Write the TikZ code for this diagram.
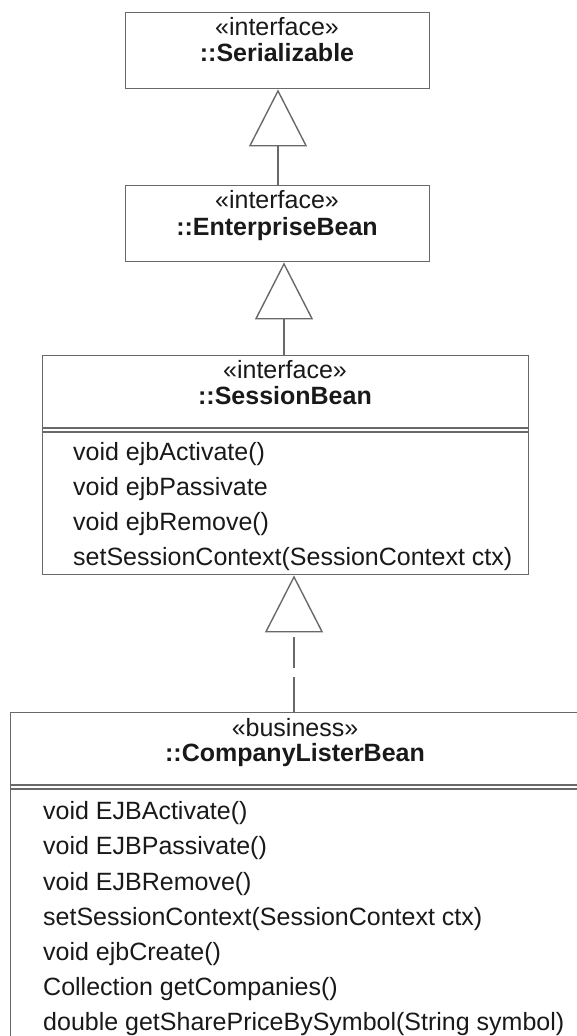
\documentclass[tikz,border=0pt]{standalone}
\usepackage{fontspec}
\setmainfont{Liberation Sans}
\usetikzlibrary{arrows.meta}
\definecolor{lineg}{RGB}{105,105,105}
\definecolor{inkc}{RGB}{25,25,25}
\tikzset{
  umlbox/.style={draw=lineg, line width=1.4pt, rectangle, inner sep=0pt, anchor=north west},
  stereo/.style={font=\fontsize{25}{29}\selectfont, text=inkc, inner sep=0pt, anchor=base},
  cname/.style={font=\bfseries\fontsize{25}{29}\selectfont, text=inkc, inner sep=0pt, anchor=base},
  member/.style={font=\fontsize{25}{29}\selectfont, text=inkc, inner sep=0pt, anchor=base west},
  gen/.style={draw=lineg, line width=1.4pt, -{Triangle[open, length=57pt, width=58pt, line width=1.4pt]}},
  real/.style={gen, dash pattern=on 35pt off 9pt on 31pt off 10pt},
  divider/.style={draw=lineg, line width=1.2pt}
}
\begin{document}
\begin{tikzpicture}[x=1pt, y=-1pt]
\useasboundingbox (0,0) rectangle (577,1036);
\clip (0,0) rectangle (577,1036);
\coordinate (ax1) at (278,0);
\coordinate (ax2) at (284,0);
\coordinate (ax3) at (294,0);
% Serializable
\node[umlbox, minimum width=304pt, minimum height=76pt] (ser) at (125,12) {};
\node[stereo] (serst) at (277,35) {«interface»};
\node[cname] (sernm) at (277,61) {::Serializable};
% EnterpriseBean
\node[umlbox, minimum width=304pt, minimum height=76pt] (ent) at (125,185) {};
\node[stereo] (entst) at (277,208) {«interface»};
\node[cname] (entnm) at (277,235) {::EnterpriseBean};
% SessionBean
\node[umlbox, minimum width=486pt, minimum height=219pt] (sb) at (42,355) {};
\node[stereo] (sbst) at (285,378) {«interface»};
\node[cname] (sbnm) at (285,404) {::SessionBean};
\draw[divider] (sb.west |- 0,428) -- (sb.east |- 0,428);
\draw[divider] (sb.west |- 0,432) -- (sb.east |- 0,432);
\node[member] (sb1) at (73,460) {void ejbActivate()};
\node[member] (sb2) at (73,495) {void ejbPassivate};
\node[member] (sb3) at (73,530) {void ejbRemove()};
\node[member] (sb4) at (73,565) {setSessionContext(SessionContext ctx)};
% CompanyListerBean
\node[umlbox, minimum width=590pt, minimum height=360pt] (clb) at (9.5,712) {};
\node[stereo] (clbst) at (295,736) {«business»};
\node[cname] (clbnm) at (295,761) {::CompanyListerBean};
\draw[divider] (clb.west |- 0,785) -- (590,785);
\draw[divider] (clb.west |- 0,789) -- (590,789);
\node[member] (c1) at (43,819) {void EJBActivate()};
\node[member] (c2) at (43,854) {void EJBPassivate()};
\node[member] (c3) at (43,890) {void EJBRemove()};
\node[member] (c4) at (43,925) {setSessionContext(SessionContext ctx)};
\node[member] (c5) at (43,960) {void ejbCreate()};
\node[member] (c6) at (43,995) {Collection getCompanies()};
\node[member] (c7) at (43,1030) {double getSharePriceBySymbol(String symbol)};
% connectors
\draw[gen] (ent.north -| ax1) -- (ser.south -| ax1);
\draw[gen] (sb.north -| ax2) -- (ent.south -| ax2);
\draw[real] (clb.north -| ax3) -- (sb.south -| ax3);
\end{tikzpicture}
\end{document}
